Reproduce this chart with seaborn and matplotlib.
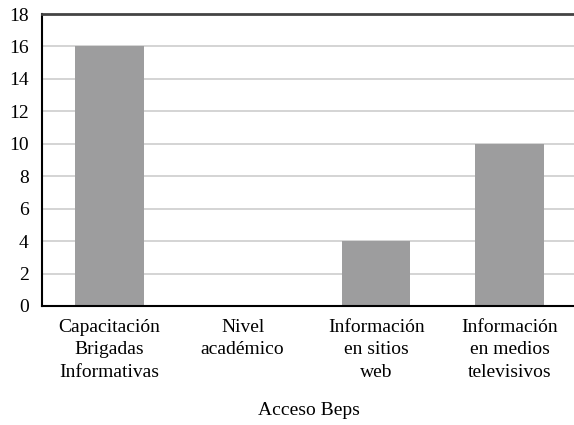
import numpy as np
import pandas as pd
import matplotlib
matplotlib.use("Agg")
import matplotlib.pyplot as plt
import seaborn as sns

CATEGORIES = [
    "Capacitación\nBrigadas\nInformativas",
    "Nivel\nacadémico",
    "Información\nen sitios\nweb",
    "Información\nen medios\ntelevisivos",
]
VALUES = [16, 0, 4, 10]
Y_TICKS = list(range(0, 19, 2))
X_LABEL = "Acceso Beps"

sns.set_theme(style="white")
plt.rcParams['font.family'] = ['Liberation Serif', 'DejaVu Serif']

df = pd.DataFrame({"cat": CATEGORIES, "val": VALUES})

fig = plt.figure(figsize=(5.74, 4.25), dpi=100)
ax = fig.add_axes([0.074, 0.28, 0.93, 0.687])

sns.barplot(data=df, x="cat", y="val", color="#9d9d9e", width=0.515,
            saturation=1, ax=ax, zorder=2, linewidth=0)

ax.set_ylim(0, 18)
ax.set_yticks(Y_TICKS)
ax.yaxis.grid(True, color="#d4d4d4", linewidth=1.4, zorder=0)
ax.set_axisbelow(True)

ax.tick_params(axis="both", length=0, labelsize=14, colors="black")
ax.tick_params(axis="x", pad=9)
ax.tick_params(axis="y", pad=10)
for lab in ax.get_xticklabels():
    lab.set_linespacing(1.46)

ax.set_xlabel(X_LABEL, fontsize=14, labelpad=15, color="black")
ax.set_ylabel("")

ax.spines["right"].set_visible(False)
ax.spines["top"].set_color("#444444")
ax.spines["top"].set_linewidth(2)
ax.spines["left"].set_color("black")
ax.spines["left"].set_linewidth(1.5)
ax.spines["bottom"].set_color("black")
ax.spines["bottom"].set_linewidth(1.5)

fig.savefig("out.png", dpi=100)
